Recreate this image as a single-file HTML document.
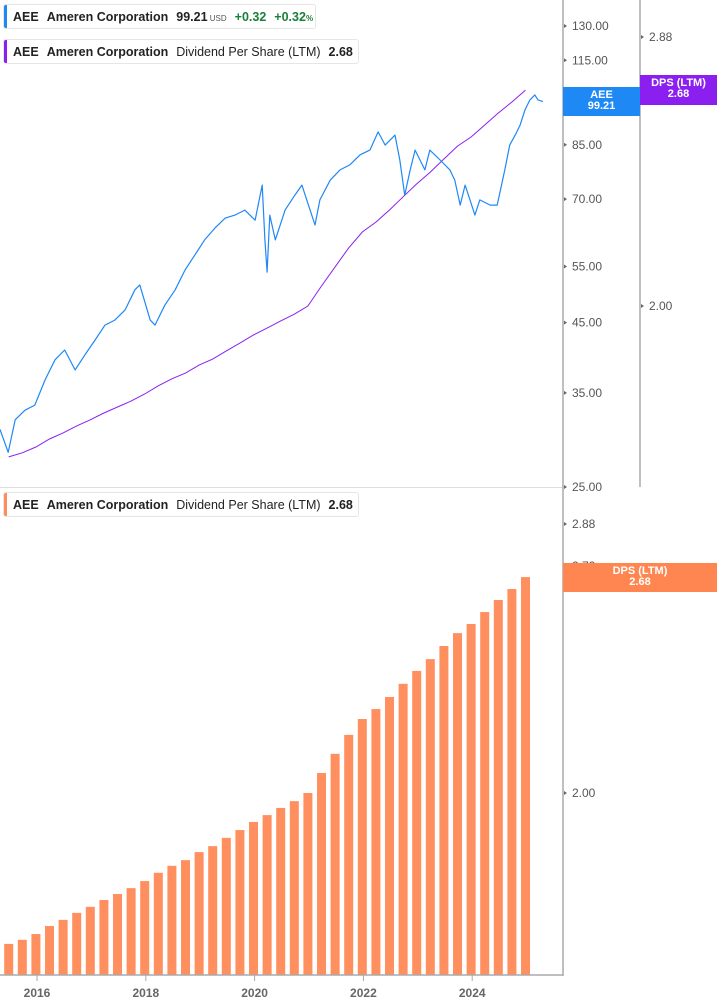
<!DOCTYPE html>
<html><head><meta charset="utf-8">
<style>
body{margin:0;background:#fff;font-family:"Liberation Sans",sans-serif;}
#wrap{position:relative;width:717px;height:1005px;overflow:hidden;}
.leg{position:absolute;left:3px;height:25px;border:1px solid #e6e6e6;border-radius:3px;background:#fff;font-size:12.5px;font-weight:bold;color:#222;line-height:25px;padding-left:9px;white-space:nowrap;box-sizing:border-box;}
.leg .bar{position:absolute;left:0;top:0;bottom:0;width:3px;border-radius:2px 0 0 2px;}
.leg span{margin-right:8px;}
.n{font-weight:normal;}
.g{color:#1a7f37;}
.tag{position:absolute;color:#fff;font-size:11px;font-weight:bold;text-align:center;line-height:11px;padding-top:3px;box-sizing:border-box;}
</style></head><body>
<div id="wrap">
<svg id="svg" width="717" height="1005" style="position:absolute;left:0;top:0"></svg>
<div class="leg" style="top:4px;width:313px"><div class="bar" style="background:#1e88f5"></div><span>AEE</span><span>Ameren Corporation</span><span>99.21<small style="font-size:8px;font-weight:normal;color:#555"> USD</small></span><span class="g">+0.32</span><span class="g">+0.32<small style="font-size:8px">%</small></span></div>
<div class="leg" style="top:39px;width:356px"><div class="bar" style="background:#8a1ff0"></div><span>AEE</span><span>Ameren Corporation</span><span class="n">Dividend Per Share (LTM)</span><span>2.68</span></div>
<div class="leg" style="top:492px;width:356px"><div class="bar" style="background:#ff8c59"></div><span>AEE</span><span>Ameren Corporation</span><span class="n">Dividend Per Share (LTM)</span><span>2.68</span></div>
<div class="tag" style="left:563px;top:87px;width:77px;height:29px;background:#1e88f5">AEE<br>99.21</div>
<div class="tag" style="left:640px;top:75px;width:77px;height:30px;background:#8a1ff0">DPS (LTM)<br>2.68</div>
<div class="tag" style="left:563px;top:563px;width:154px;height:29px;background:#ff8650">DPS (LTM)<br>2.68</div>
</div>
<script>
const priceYears=[2015.32,2015.47,2015.60,2015.78,2015.96,2016.15,2016.33,2016.51,2016.70,2016.88,2017.07,2017.25,2017.43,2017.62,2017.80,2017.89,2018.08,2018.17,2018.35,2018.54,2018.72,2018.90,2019.08,2019.27,2019.46,2019.64,2019.82,2020.01,2020.14,2020.19,2020.23,2020.28,2020.38,2020.56,2020.74,2020.87,2021.02,2021.11,2021.20,2021.39,2021.57,2021.75,2021.94,2022.12,2022.27,2022.40,2022.58,2022.67,2022.76,2022.86,2022.95,2023.13,2023.22,2023.41,2023.59,2023.68,2023.78,2023.87,2023.96,2024.05,2024.14,2024.33,2024.46,2024.60,2024.69,2024.79,2024.88,2024.97,2025.06,2025.15,2025.21,2025.30];
const priceValues=[30.7,28.3,31.8,32.9,33.5,36.7,39.4,40.8,38.0,40.1,42.3,44.6,45.4,47.1,50.6,51.5,45.4,44.6,47.9,50.6,54.3,57.3,60.5,63.1,65.4,66.1,67.3,64.9,73.6,60.5,53.9,66.1,60.5,67.3,71.0,73.6,67.3,63.8,69.8,74.9,77.7,79.1,82.0,83.4,89.0,84.9,88.0,80.5,71.0,77.7,83.4,77.7,83.4,80.5,77.7,74.9,68.5,73.6,69.8,66.1,69.8,68.5,68.5,77.7,84.9,88.0,91.2,96.3,99.8,101.6,99.8,99.2];
const dpsYears=[];for(let i=0;i<39;i++)dpsYears.push(2015.48+i*0.25);
const dpsValues=[1.630,1.639,1.652,1.670,1.684,1.700,1.714,1.730,1.744,1.758,1.775,1.795,1.812,1.826,1.846,1.861,1.882,1.902,1.923,1.941,1.960,1.978,2.000,2.055,2.109,2.164,2.211,2.241,2.278,2.319,2.360,2.398,2.441,2.484,2.515,2.556,2.598,2.637,2.680];
const priceTicks=[130,115,100,85,70,55,45,35,25];
const dpsTicksTop=[2.88,2.00];
const dpsTicksBottom=[2.88,2.72,2.00];
const yearTicks=[2016,2018,2020,2022,2024];

const NS="http://www.w3.org/2000/svg";const svg=document.getElementById('svg');
function mk(t,a,p){const e=document.createElementNS(NS,t);for(const k in a)e.setAttribute(k,a[k]);(p||svg).appendChild(e);return e;}
const X=y=>37+(y-2016)*54.4;
const YP=v=>26+279.6*Math.log(130/v);
const YD=v=>306+737.7*Math.log(2/v);
const YB=v=>793+737.7*Math.log(2/v);
// grid lines
let e=mk('line',{x1:0,y1:487.5,x2:563,y2:487.5,stroke:'#ddd','stroke-width':1});

// bars
const gb=mk('g',{});
dpsYears.forEach((yr,i)=>{const y=YB(dpsValues[i]);const b=mk('rect',{x:X(yr)-4.5,y:y,width:9,height:975-y,fill:'#ff8f5e'},gb);
});
// dps line
let d=dpsYears.map((yr,i)=>(i?'L':'M')+X(yr).toFixed(1)+','+YD(dpsValues[i]).toFixed(1)).join('');
e=mk('path',{d:d,fill:'none',stroke:'#8a1ff0','stroke-width':1});

// price line
d=priceYears.map((yr,i)=>(i?'L':'M')+X(yr).toFixed(1)+','+YP(priceValues[i]).toFixed(1)).join('');
e=mk('path',{d:d,fill:'none',stroke:'#1e88f5','stroke-width':1.2,'stroke-linejoin':'round'});

// axes
e=mk('line',{x1:563,y1:0,x2:563,y2:976,stroke:'#aaa','stroke-width':1.5});

e=mk('line',{x1:640,y1:0,x2:640,y2:487,stroke:'#aaa','stroke-width':1.5});

e=mk('line',{x1:0,y1:975,x2:563,y2:975,stroke:'#aaa','stroke-width':1.5});

function tick(x,y,label,name){const t=mk('path',{d:`M${x},${y-2}L${x+3},${y}L${x},${y+2}Z`,fill:'#666'});

const tx=mk('text',{x:x+8,y:y+4,'font-size':'12',fill:'#555','font-family':'Liberation Sans, sans-serif'});tx.textContent=label;
}
priceTicks.forEach(v=>tick(564,YP(v),v.toFixed(2),'price-tick-label'));
dpsTicksTop.forEach(v=>tick(641,YD(v),v.toFixed(2),'dps-tick-label-top'));
dpsTicksBottom.forEach(v=>tick(564,YB(v),v.toFixed(2),'dps-tick-label-bottom'));
yearTicks.forEach(yr=>{const x=X(yr);const l=mk('line',{x1:x,y1:975,x2:x,y2:981,stroke:'#aaa'});

const t=mk('text',{x:x,y:997,'font-size':'12','font-weight':'bold',fill:'#666','text-anchor':'middle','font-family':'Liberation Sans, sans-serif'});t.textContent=yr;
});
</script>
</body></html>
